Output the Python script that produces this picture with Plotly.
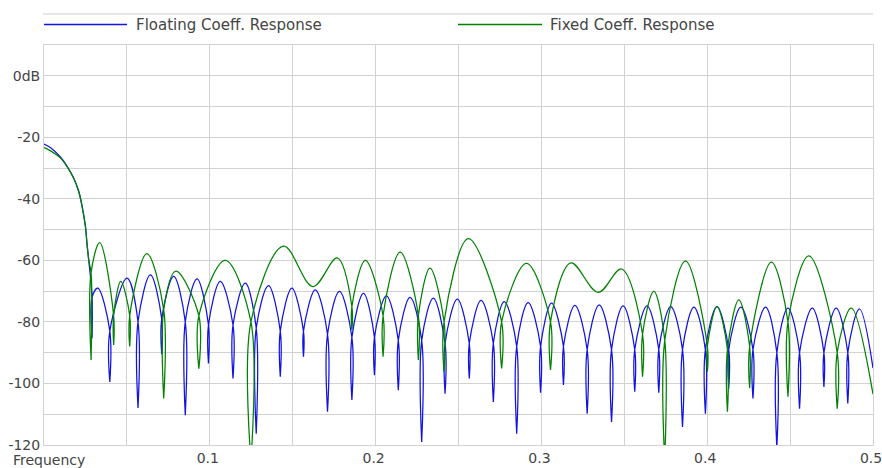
import plotly.graph_objects as go

# ---- Floating-coefficient response ----
# smooth points along the lobes (passband roll-off, lobe tops)
float_lobe_f = [0.0, 0.004, 0.0099, 0.014, 0.018, 0.021, 0.023, 0.025, 0.026, 0.027,
                0.0324, 0.0501, 0.0642, 0.0782, 0.0923, 0.1063, 0.1214, 0.1354, 0.1495,
                0.1636, 0.1782, 0.1927, 0.2065, 0.2208, 0.2348, 0.2493, 0.2636, 0.2776,
                0.2920, 0.3061, 0.3202, 0.3348, 0.3493, 0.3637, 0.3780, 0.3920, 0.4059,
                0.4203, 0.4352, 0.4487, 0.4634, 0.4778, 0.4919, 0.5]
float_lobe_db = [-22.2, -23.4, -26.4, -29.5, -33.4, -37.7, -42.5, -49.0, -55.0, -60.0,
                 -69.0, -65.8, -64.7, -65.2, -66.0, -66.8, -67.4, -68.2, -69.0,
                 -69.6, -70.1, -70.7, -71.5, -72.0, -72.3, -72.6, -73.0, -73.4,
                 -73.7, -73.9, -74.6, -74.5, -74.8, -74.8, -75.0, -75.2, -75.0,
                 -75.2, -75.2, -75.5, -75.5, -75.5, -75.8, -95.0]
# notches: position, depth, and the level where the notch starts
float_null_f = [0.0290, 0.0397, 0.0567, 0.0710, 0.0852, 0.0992, 0.1140, 0.1280, 0.1425,
                0.1565, 0.1710, 0.1857, 0.1993, 0.2137, 0.2278, 0.2419, 0.2565, 0.2710,
                0.2851, 0.2995, 0.3133, 0.3276, 0.3423, 0.3563, 0.3708, 0.3851, 0.3989,
                0.4130, 0.4276, 0.4420, 0.4557, 0.4704, 0.4848]
float_null_db = [-85.3, -99.5, -108.0, -90.5, -110.3, -93.5, -98.4, -116.3, -97.8,
                 -91.3, -109.2, -105.4, -97.3, -102.2, -119.0, -103.3, -98.4, -106.0,
                 -116.3, -103.0, -100.5, -109.8, -112.5, -102.7, -103.0, -114.1, -109.8,
                 -101.6, -104.9, -121.0, -108.2, -101.1, -106.5]
float_edge_db = [-72, -83, -80, -79, -80, -81, -81, -82, -83,
                 -83, -84, -85, -85, -86, -86, -87, -87, -87,
                 -88, -88, -88, -89, -89, -89, -89, -89, -89,
                 -89, -89, -90, -90, -90, -90]

# ---- Fixed-coefficient response ----
fixed_lobe_f = [0.0, 0.004, 0.0099, 0.014, 0.018, 0.021, 0.023, 0.025, 0.026, 0.027,
                0.0336, 0.0463, 0.0620, 0.0795, 0.1093, 0.1445, 0.1622, 0.1768, 0.1938,
                0.2148, 0.2328, 0.2559, 0.2910, 0.3178, 0.3342, 0.3483, 0.3678, 0.3870,
                0.4059, 0.4191, 0.4387, 0.4613, 0.4869, 0.5]
fixed_lobe_db = [-23.3, -24.4, -26.7, -29.6, -33.4, -37.7, -42.5, -49.0, -55.0, -60.0,
                 -54.2, -66.8, -57.8, -63.5, -60.0, -55.4, -68.5, -59.2, -60.0,
                 -57.3, -62.5, -52.9, -61.0, -60.8, -70.4, -62.8, -70.1, -60.2,
                 -75.0, -72.8, -60.6, -58.5, -75.5, -103.5]
fixed_null_f = [0.0284, 0.0420, 0.0517, 0.0722, 0.0934, 0.1248, 0.1857, 0.2045, 0.2258,
                0.2413, 0.2760, 0.3055, 0.3610, 0.3744, 0.4001, 0.4122, 0.4256, 0.4487,
                0.4784]
fixed_null_db = [-92.4, -87.5, -88.0, -104.9, -95.2, -125.0, -82.6, -91.3, -92.4,
                 -96.2, -95.1, -95.6, -97.8, -125.0, -96.2, -109.2, -101.5, -104.3,
                 -108.2]
fixed_edge_db = [-64, -78, -78, -76, -78, -80, -75, -78, -78,
                 -80, -80, -80, -84, -86, -88, -89, -88, -80,
                 -90]

# axis ticks
x_ticks = [0.05, 0.1, 0.15, 0.2, 0.25, 0.3, 0.35, 0.4, 0.45, 0.5]
x_labels = ["", "0.1", "", "0.2", "", "0.3", "", "0.4", "", "0.5"]
y_ticks = [10, 0, -10, -20, -30, -40, -50, -60, -70, -80, -90, -100, -110, -120]
y_labels = ["", "0dB", "", "-20", "", "-40", "", "-60", "", "-80", "", "-100", "", "-120"]

series_names = ["Floating Coeff. Response", "Fixed Coeff. Response"]
series_colors = ["rgb(18,18,228)", "rgb(0,130,0)"]


def response_path(lobe_f, lobe_db, null_f, null_db, edge_db):
    """Join the lobe points and notches into one polyline ordered by frequency."""
    items = [(f, 0, d, None) for f, d in zip(lobe_f, lobe_db)]
    items += [(f, 1, d, e) for f, d, e in zip(null_f, null_db, edge_db)]
    items.sort(key=lambda t: t[0])
    xs, ys = [], []
    for f, kind, d, e in items:
        if kind == 0:
            xs.append(f)
            ys.append(d)
        else:
            xs += [f, f, f]
            ys += [e, d, e]
    return xs, ys


W, H = 882, 468
L, R, T, B = 44, 9, 45, 23
PW, PH = W - L - R, H - T - B


def px(x):
    return (x - L) / PW


def py(y):
    return (H - B - y) / PH


fig = go.Figure()
paths = [
    response_path(float_lobe_f, float_lobe_db, float_null_f, float_null_db, float_edge_db),
    response_path(fixed_lobe_f, fixed_lobe_db, fixed_null_f, fixed_null_db, fixed_edge_db),
]
for (xs, ys), name, col in zip(paths, series_names, series_colors):
    fig.add_trace(go.Scatter(
        x=xs, y=ys, mode="lines", name=name, showlegend=False,
        line=dict(color=col, width=1.25, shape="spline", smoothing=1.0, simplify=False),
        hoverinfo="skip",
    ))

font = "DejaVu Sans, Verdana, sans-serif"
grid = "#d2d2d2"

# header rule and custom legend row
shapes = [dict(type="line", xref="paper", yref="paper", x0=px(43), x1=px(873),
               y0=py(14), y1=py(14), line=dict(color="#cfcfcf", width=1.2))]
annotations = []
legend_x = [(44, 127, 134), (458, 542, 548)]
for (x0, x1, tx), name, col in zip(legend_x, series_names, series_colors):
    shapes.append(dict(type="line", xref="paper", yref="paper", x0=px(x0), x1=px(x1),
                       y0=py(24.5), y1=py(24.5), line=dict(color=col, width=1.4)))
    annotations.append(dict(text=name, xref="paper", yref="paper", x=px(tx), y=py(25.5),
                            xanchor="left", yanchor="middle", showarrow=False,
                            font=dict(family=font, size=15, color="#444444")))
annotations.append(dict(text="Frequency", xref="paper", yref="paper", x=px(11), y=py(460),
                        xanchor="left", yanchor="middle", showarrow=False,
                        font=dict(family=font, size=14, color="#444444")))

fig.update_layout(
    width=W, height=H,
    margin=dict(l=L, r=R, t=T, b=B, pad=0, autoexpand=False),
    paper_bgcolor="white", plot_bgcolor="white",
    shapes=shapes, annotations=annotations,
    font=dict(family=font, size=14, color="#444444"),
    xaxis=dict(range=[0, 0.5], tickmode="array", tickvals=x_ticks, ticktext=x_labels,
               showgrid=True, gridcolor=grid, gridwidth=1, zeroline=False,
               showline=True, linecolor=grid, linewidth=1, mirror=True,
               ticks="", ticklabelshift=-2, ticklabeloverflow="allow",
               automargin=False, fixedrange=True),
    yaxis=dict(range=[-120, 10], tickmode="array", tickvals=y_ticks, ticktext=y_labels,
               showgrid=True, gridcolor=grid, gridwidth=1, zeroline=False,
               showline=True, linecolor=grid, linewidth=1, mirror=True,
               ticks="", ticklabeloverflow="allow", automargin=False, fixedrange=True),
)

fig.write_html("out.html")
